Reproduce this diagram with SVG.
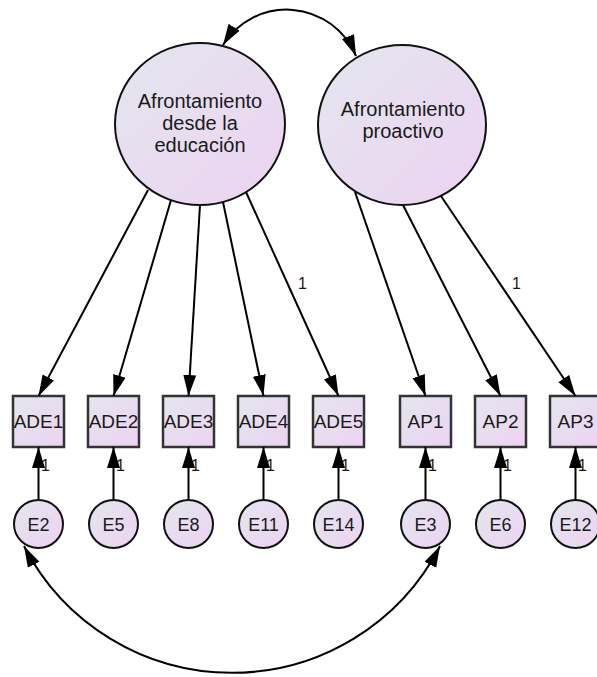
<svg xmlns="http://www.w3.org/2000/svg" width="597" height="677" viewBox="0 0 597 677">
<defs>
<linearGradient id="g" x1="0" y1="0" x2="1" y2="1">
<stop offset="0" stop-color="#e3e6ee"/>
<stop offset="1" stop-color="#edd3f2"/>
</linearGradient>
<marker id="ah" markerUnits="userSpaceOnUse" markerWidth="22" markerHeight="14" refX="21" refY="6.5" orient="auto-start-reverse" viewBox="0 0 22 14">
<path d="M0,0 L21,6.5 L0,13 z" fill="#000"/>
</marker>
<style>
.lat{fill:url(#g);stroke:#111;stroke-width:2}
.obs{fill:url(#g);stroke:#333;stroke-width:2.5}
.t{font-family:"Liberation Sans",Arial,sans-serif;fill:#1a1a1a;text-anchor:middle}
.big{font-size:20px}
.box{font-size:19px}
.err{font-size:18px}
.one{font-family:"Liberation Sans",Arial,sans-serif;font-size:16px;fill:#2a1208}
.c{stroke:#000;stroke-width:2;fill:none;marker-end:url(#ah)}
.cc{stroke:#000;stroke-width:2;fill:none;marker-end:url(#ah);marker-start:url(#ah)}
</style>
</defs>

<g id="F1">
<ellipse class="lat" cx="200" cy="124" rx="85" ry="81"/>
<text class="t big" x="200" y="108">Afrontamiento</text>
<text class="t big" x="200" y="130">desde la</text>
<text class="t big" x="200" y="152">educación</text>
</g>
<g id="F2">
<ellipse class="lat" cx="402" cy="125" rx="84" ry="80"/>
<text class="t big" x="403" y="116">Afrontamiento</text>
<text class="t big" x="403" y="138">proactivo</text>
</g>

<g id="ADE1"><rect class="obs" x="13" y="396" width="51" height="51"/><text class="t box" x="38.5" y="428">ADE1</text></g>
<g id="ADE2"><rect class="obs" x="88" y="396" width="51" height="51"/><text class="t box" x="113.5" y="428">ADE2</text></g>
<g id="ADE3"><rect class="obs" x="163" y="396" width="51" height="51"/><text class="t box" x="188.5" y="428">ADE3</text></g>
<g id="ADE4"><rect class="obs" x="238" y="396" width="51" height="51"/><text class="t box" x="263.5" y="428">ADE4</text></g>
<g id="ADE5"><rect class="obs" x="313" y="396" width="51" height="51"/><text class="t box" x="338.5" y="428">ADE5</text></g>
<g id="AP1"><rect class="obs" x="400" y="396" width="51" height="51"/><text class="t box" x="425.5" y="428">AP1</text></g>
<g id="AP2"><rect class="obs" x="475" y="396" width="51" height="51"/><text class="t box" x="500.5" y="428">AP2</text></g>
<g id="AP3"><rect class="obs" x="550" y="396" width="51" height="51"/><text class="t box" x="575.5" y="428">AP3</text></g>

<g id="E2"><ellipse class="lat" cx="38.5" cy="524" rx="24.5" ry="24"/><text class="t err" x="38.5" y="531">E2</text></g>
<g id="E5"><ellipse class="lat" cx="113.5" cy="524" rx="24.5" ry="24"/><text class="t err" x="113.5" y="531">E5</text></g>
<g id="E8"><ellipse class="lat" cx="188.5" cy="524" rx="24.5" ry="24"/><text class="t err" x="188.5" y="531">E8</text></g>
<g id="E11"><ellipse class="lat" cx="263.5" cy="524" rx="24.5" ry="24"/><text class="t err" x="263.5" y="531">E11</text></g>
<g id="E14"><ellipse class="lat" cx="338.5" cy="524" rx="24.5" ry="24"/><text class="t err" x="338.5" y="531">E14</text></g>
<g id="E3"><ellipse class="lat" cx="425.5" cy="524" rx="24.5" ry="24"/><text class="t err" x="425.5" y="531">E3</text></g>
<g id="E6"><ellipse class="lat" cx="500.5" cy="524" rx="24.5" ry="24"/><text class="t err" x="500.5" y="531">E6</text></g>
<g id="E12"><ellipse class="lat" cx="575.5" cy="524" rx="24.5" ry="24"/><text class="t err" x="575.5" y="531">E12</text></g>

<g id="labels">
<text class="one" x="298" y="289">1</text>
<text class="one" x="512" y="289">1</text>
<text class="one" x="41" y="471">1</text>
<text class="one" x="116" y="471">1</text>
<text class="one" x="191" y="471">1</text>
<text class="one" x="266" y="471">1</text>
<text class="one" x="341" y="471">1</text>
<text class="one" x="428" y="471">1</text>
<text class="one" x="503" y="471">1</text>
<text class="one" x="578" y="471">1</text>
</g>

<g id="connectors">
<line class="c" x1="148" y1="190" x2="38.5" y2="396"/>
<line class="c" x1="171" y1="200" x2="113.5" y2="396"/>
<line class="c" x1="200" y1="205" x2="188.5" y2="396"/>
<line class="c" x1="223" y1="202" x2="263.5" y2="396"/>
<line class="c" x1="246" y1="192" x2="338.5" y2="396"/>
<line class="c" x1="355" y1="192" x2="425.5" y2="396"/>
<line class="c" x1="403" y1="205" x2="500.5" y2="396"/>
<line class="c" x1="441" y1="196" x2="575.5" y2="396"/>

<line class="c" x1="38.5" y1="500" x2="38.5" y2="447"/>
<line class="c" x1="113.5" y1="500" x2="113.5" y2="447"/>
<line class="c" x1="188.5" y1="500" x2="188.5" y2="447"/>
<line class="c" x1="263.5" y1="500" x2="263.5" y2="447"/>
<line class="c" x1="338.5" y1="500" x2="338.5" y2="447"/>
<line class="c" x1="425.5" y1="500" x2="425.5" y2="447"/>
<line class="c" x1="500.5" y1="500" x2="500.5" y2="447"/>
<line class="c" x1="575.5" y1="500" x2="575.5" y2="447"/>

<path class="cc" d="M223,45 A75,75 0 0 1 356,56"/>
<path class="cc" d="M24,546 A234,234 0 0 0 440,546"/>
</g>
</svg>
